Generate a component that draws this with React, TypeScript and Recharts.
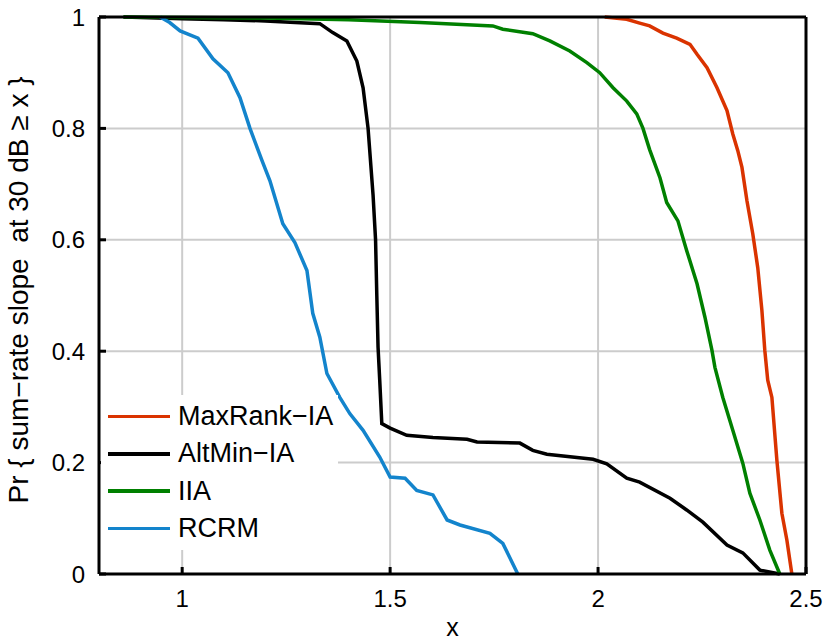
import { LineChart, Line, XAxis, YAxis, CartesianGrid, Legend } from 'recharts';

// x values and Pr{slope >= x}, one pair of arrays per curve
const maxRankX = [2.016, 2.069, 2.1, 2.124, 2.156, 2.189, 2.221, 2.238, 2.262, 2.286, 2.31, 2.324, 2.336, 2.346, 2.358, 2.372, 2.384, 2.394, 2.401, 2.408, 2.418, 2.43, 2.442, 2.454, 2.466];
const maxRankY = [1.0, 0.996, 0.989, 0.984, 0.971, 0.962, 0.951, 0.933, 0.909, 0.873, 0.832, 0.79, 0.76, 0.73, 0.67, 0.611, 0.55, 0.473, 0.401, 0.348, 0.317, 0.204, 0.109, 0.061, 0];

const altMinX = [0.86, 1.0, 1.1, 1.2, 1.331, 1.362, 1.396, 1.42, 1.435, 1.447, 1.459, 1.465, 1.468, 1.471, 1.475, 1.48, 1.5, 1.54, 1.603, 1.685, 1.709, 1.812, 1.843, 1.877, 1.988, 2.021, 2.069, 2.1, 2.173, 2.213, 2.252, 2.31, 2.348, 2.389, 2.437];
const altMinY = [1.0, 0.997, 0.995, 0.993, 0.988, 0.972, 0.957, 0.921, 0.873, 0.8, 0.68, 0.6, 0.5, 0.407, 0.348, 0.27, 0.262, 0.249, 0.245, 0.242, 0.237, 0.235, 0.222, 0.215, 0.206, 0.198, 0.172, 0.165, 0.136, 0.115, 0.093, 0.052, 0.038, 0.007, 0];

const iiaX = [0.858, 1.2, 1.4, 1.572, 1.747, 1.771, 1.843, 1.884, 1.932, 1.973, 2.004, 2.036, 2.069, 2.093, 2.108, 2.124, 2.149, 2.165, 2.192, 2.213, 2.238, 2.257, 2.274, 2.281, 2.3, 2.324, 2.348, 2.365, 2.389, 2.413, 2.437];
const iiaY = [1.0, 0.998, 0.995, 0.99, 0.984, 0.978, 0.97, 0.957, 0.939, 0.918, 0.9, 0.873, 0.849, 0.826, 0.8, 0.762, 0.711, 0.667, 0.634, 0.581, 0.521, 0.461, 0.401, 0.371, 0.317, 0.258, 0.199, 0.145, 0.097, 0.043, 0];

const rcrmX = [0.947, 0.97, 0.995, 1.038, 1.074, 1.11, 1.139, 1.163, 1.192, 1.211, 1.242, 1.271, 1.3, 1.314, 1.331, 1.348, 1.379, 1.403, 1.435, 1.475, 1.5, 1.536, 1.564, 1.603, 1.637, 1.668, 1.74, 1.771, 1.807];
const rcrmY = [1.0, 0.99, 0.975, 0.962, 0.925, 0.9, 0.855, 0.8, 0.742, 0.706, 0.629, 0.595, 0.545, 0.468, 0.425, 0.36, 0.317, 0.288, 0.258, 0.21, 0.174, 0.172, 0.15, 0.142, 0.097, 0.088, 0.073, 0.055, 0];

const xTicks = [1, 1.5, 2, 2.5];
const yTicks = [0, 0.2, 0.4, 0.6, 0.8, 1];

const toPoints = (xs: number[], ys: number[]) => xs.map((x, i) => ({ x, y: ys[i] }));

const series = [
  { name: 'MaxRank\u2212IA', color: '#DA3300', data: toPoints(maxRankX, maxRankY) },
  { name: 'AltMin\u2212IA', color: '#000000', data: toPoints(altMinX, altMinY) },
  { name: 'IIA', color: '#008000', data: toPoints(iiaX, iiaY) },
  { name: 'RCRM', color: '#1384CC', data: toPoints(rcrmX, rcrmY) },
];

const FONT = '"Liberation Sans", Arial, sans-serif';

const bottomTick = ({ x, y, payload }: any) => (
  <g>
    <line x1={x} x2={x} y1={y} y2={y - 7} stroke="#000" strokeWidth={3} />
    <text x={x} y={y + 33} textAnchor="middle" fontSize={24} fontFamily={FONT} fill="#000">
      {payload.value}
    </text>
  </g>
);

const topTick = ({ x, y }: any) => <line x1={x} x2={x} y1={y} y2={y + 7} stroke="#000" strokeWidth={3} />;

const leftTick = ({ x, y, payload }: any) => (
  <g>
    <line x1={x} x2={x + 7} y1={y} y2={y} stroke="#000" strokeWidth={3} />
    <text x={x - 14} y={y + 8.5} textAnchor="end" fontSize={24} fontFamily={FONT} fill="#000">
      {payload.value}
    </text>
  </g>
);

const rightTick = ({ x, y }: any) => <line x1={x} x2={x - 7} y1={y} y2={y} stroke="#000" strokeWidth={3} />;

const LegendBox = () => (
  <div style={{ background: '#fff', width: 237, height: 155, boxSizing: 'border-box', paddingTop: 3, fontFamily: FONT }}>
    {series.map((s) => (
      <div key={s.name} style={{ display: 'flex', alignItems: 'center', height: 37.3 }}>
        <div style={{ width: 62, height: 3.5, background: s.color, marginLeft: 7, marginRight: 8 }} />
        <span style={{ fontSize: 27, color: '#000', lineHeight: '37px' }}>{s.name}</span>
      </div>
    ))}
  </div>
);

const axisLine = { stroke: '#000', strokeWidth: 3 };

export default function App() {
  return (
    <div style={{ position: 'absolute', left: 0, top: 0, width: 829, height: 643, background: '#fff' }}>
      <LineChart width={829} height={643} margin={{ top: 16, right: 22, bottom: 29, left: 39 }}>
        <CartesianGrid xAxisId="b" yAxisId="l" stroke="#cccccc" strokeWidth={2} />
        <XAxis
          xAxisId="b"
          type="number"
          dataKey="x"
          domain={[0.8, 2.5]}
          ticks={xTicks}
          height={40}
          tickSize={0}
          tickMargin={0}
          tickLine={false}
          tick={bottomTick}
          stroke="#000"
          axisLine={axisLine}
          label={{ value: 'x', position: 'insideBottom', offset: -22, fontSize: 25, fontFamily: FONT, fill: '#000' }}
        />
        <XAxis
          xAxisId="t"
          orientation="top"
          type="number"
          dataKey="x"
          domain={[0.8, 2.5]}
          ticks={xTicks}
          height={1}
          tickSize={0}
          tickMargin={0}
          tickLine={false}
          tick={topTick}
          stroke="#000"
          axisLine={axisLine}
        />
        <YAxis
          yAxisId="l"
          type="number"
          domain={[0, 1]}
          ticks={yTicks}
          width={60}
          tickSize={0}
          tickMargin={0}
          tickLine={false}
          tick={leftTick}
          stroke="#000"
          axisLine={axisLine}
          label={{
            content: () => (
              <text
                x={28}
                y={290}
                transform="rotate(-90 28 290)"
                textAnchor="middle"
                fontSize={28}
                fontFamily={FONT}
                fill="#000"
                style={{ whiteSpace: 'pre' }}
              >
                {'Pr { sum\u2212rate slope  at 30 dB \u2265 x }'}
              </text>
            ),
          }}
        />
        <YAxis
          yAxisId="r"
          orientation="right"
          type="number"
          domain={[0, 1]}
          ticks={yTicks}
          width={1}
          tickSize={0}
          tickMargin={0}
          tickLine={false}
          tick={rightTick}
          stroke="#000"
          axisLine={axisLine}
        />
        {series.map((s) => (
          <Line
            key={s.name}
            xAxisId="b"
            yAxisId="l"
            data={s.data}
            dataKey="y"
            name={s.name}
            type="linear"
            stroke={s.color}
            strokeWidth={3.5}
            dot={false}
            isAnimationActive={false}
          />
        ))}
        <Legend
          layout="vertical"
          align="center"
          verticalAlign="middle"
          content={<LegendBox />}
          wrapperStyle={{ position: 'absolute', left: 101, top: 395, width: 237, height: 155 }}
        />
      </LineChart>
    </div>
  );
}
